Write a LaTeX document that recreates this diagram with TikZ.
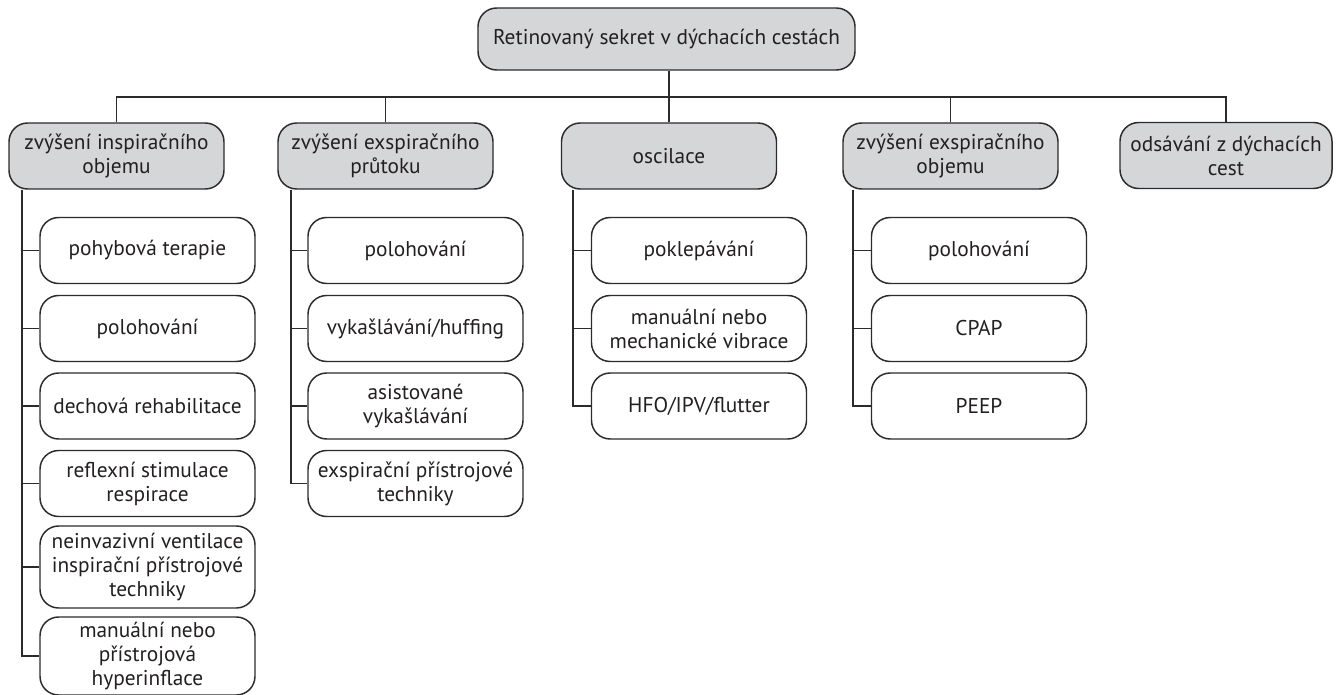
\documentclass[tikz,border=0pt]{standalone}
\usepackage{fontspec}
\setmainfont{PT Sans}
\definecolor{linec}{RGB}{45,42,43}
\definecolor{textc}{RGB}{35,31,32}
\definecolor{headfill}{RGB}{213,214,216}
\begin{document}
\begin{tikzpicture}[x=0.75pt,y=-0.75pt,
  box/.style={draw=linec, line width=1.1pt, rounded corners=14pt, align=center, inner sep=2pt,
    font=\fontsize{16}{18}\selectfont, text=textc, minimum width=161.25pt, minimum height=49.5pt},
  head/.style={box, fill=headfill},
  conn/.style={draw=linec, line width=1.1pt}]
\useasboundingbox (0,0) rectangle (1338,695);
% top
\node[head, minimum width=282.75pt, minimum height=46.5pt] (top) at (666.5,39) {Retinovaný sekret v dýchacích cestách};
% level 2
\node[head] (L1) at (116.5,156) {zvýšení inspiračního\\objemu};
\node[head] (L2) at (385.5,156) {zvýšení exspiračního\\průtoku};
\node[head] (L3) at (669,156) {oscilace};
\node[head] (L4) at (950.5,156) {zvýšení exspiračního\\objemu};
\node[head, minimum width=159pt] (L5) at (1226,155.5) {odsávání z dýchacích\\cest};
% column 1
\node[box] (a1) at (147.5,250.5) {pohybová terapie};
\node[box] (a2) at (147.5,328.5) {polohování};
\node[box] (a3) at (147.5,406) {dechová rehabilitace};
\node[box] (a4) at (147.5,483.5) {reflexní stimulace\\respirace};
\node[box, minimum height=61.5pt] (a5) at (147.5,567) {neinvazivní ventilace\\inspirační přístrojové\\techniky};
\node[box, minimum height=58.5pt] (a6) at (147.5,656) {manuální nebo\\přístrojová\\hyperinflace};
% column 2
\node[box] (b1) at (415.5,250.5) {polohování};
\node[box] (b2) at (415.5,328.5) {vykašlávání/huffing};
\node[box] (b3) at (415.5,406) {asistované\\vykašlávání};
\node[box] (b4) at (415.5,483.5) {exspirační přístrojové\\techniky};
% column 3
\node[box] (c1) at (699,250.5) {poklepávání};
\node[box] (c2) at (699,328.5) {manuální nebo\\mechanické vibrace};
\node[box] (c3) at (699,406) {HFO/IPV/flutter};
% column 4
\node[box] (d1) at (979,250.5) {polohování};
\node[box] (d2) at (979,328.5) {CPAP};
\node[box] (d3) at (979,406) {PEEP};
% bus
\coordinate (bus) at (0,97);
\draw[conn] (L1.north) |- (bus -| L5.north) -- (L5.north);
\draw[conn] (L2.north) -- (L2.north |- bus);
\draw[conn] (L4.north) -- (L4.north |- bus);
\draw[conn] (top.south -| L3.north) -- (L3.north);
% trunks
\coordinate (ta) at (22,0);
\coordinate (tb) at (291,0);
\coordinate (tc) at (573,0);
\coordinate (td) at (853,0);
\draw[conn] (L1.south -| ta) |- (a6.west);
\foreach \n in {a1,a2,a3,a4,a5} \draw[conn] (ta |- \n.west) -- (\n.west);
\draw[conn] (L2.south -| tb) |- (b4.west);
\foreach \n in {b1,b2,b3} \draw[conn] (tb |- \n.west) -- (\n.west);
\draw[conn] (L3.south -| tc) |- (c3.west);
\foreach \n in {c1,c2} \draw[conn] (tc |- \n.west) -- (\n.west);
\draw[conn] (L4.south -| td) |- (d3.west);
\foreach \n in {d1,d2} \draw[conn] (td |- \n.west) -- (\n.west);
\end{tikzpicture}
\end{document}
